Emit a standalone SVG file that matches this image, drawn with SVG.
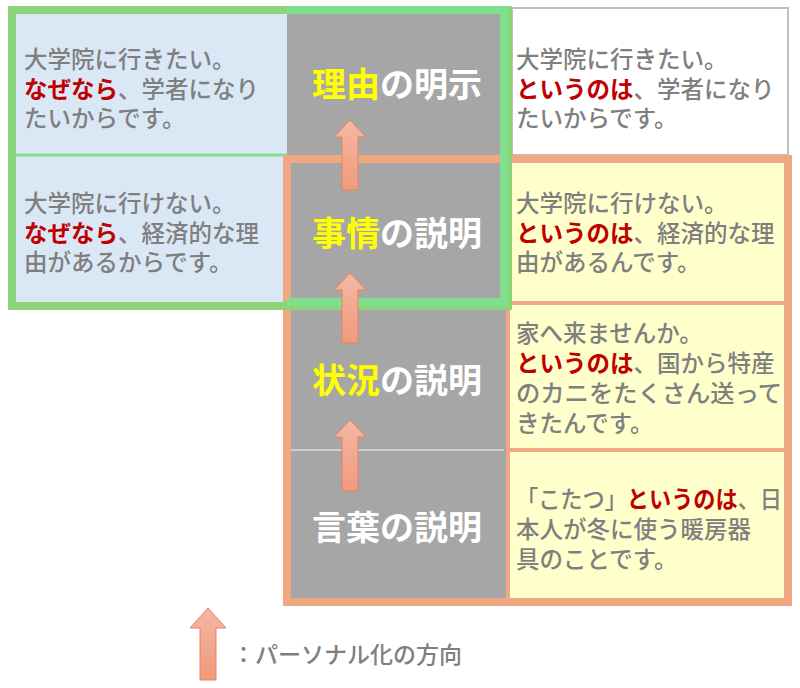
<svg xmlns="http://www.w3.org/2000/svg" width="800" height="688" viewBox="0 0 800 688">
<style>
text{font-family:"Noto Sans CJK JP","Noto Sans",sans-serif}
.t{font-size:23.5px;fill:#7f7f7f;font-weight:500}
.r{fill:#c00000;font-weight:bold}
.m{font-size:34px;fill:#fff;text-anchor:middle;font-weight:bold}
.y{fill:#ffff00}
.arw{stroke:#e8825e;stroke-width:1}
</style>
<defs>
<linearGradient id="ag" x1="0" y1="0" x2="0" y2="1"><stop offset="0" stop-color="#f4b8a4"/><stop offset="1" stop-color="#f09a7c"/></linearGradient>
</defs>
<g id="cells">
<rect x="16" y="12" width="271" height="143" fill="#dae8f6"/>
<rect x="16" y="155" width="271" height="148" fill="#dae8f6"/>
<rect x="287" y="12" width="221" height="590" fill="#a6a6a6"/>
<line x1="291" y1="450" x2="504" y2="450" stroke="#d0d0d0" stroke-width="2"/>
<rect x="512" y="8" width="276" height="147" fill="#fff" stroke="#bfbfbf" stroke-width="2"/>
<rect x="508" y="159" width="280" height="440" fill="#ffffcc"/>
<line x1="16" y1="155" x2="287" y2="155" stroke="#80e090" stroke-width="3"/>
<line x1="508" y1="303" x2="788" y2="303" stroke="#f0a882" stroke-width="4"/>
<line x1="508" y1="450" x2="788" y2="450" stroke="#f0a882" stroke-width="4"/>
<line x1="508" y1="159" x2="508" y2="600" stroke="#f0a882" stroke-width="4"/>
</g>
<g id="frames">
<rect x="287" y="159" width="501" height="443" fill="none" stroke="#f0a882" stroke-width="8"/>
<rect x="12" y="10" width="496" height="296" fill="none" stroke="#8cd47a" stroke-width="8"/>
<path d="M287 10 H504 V302 H287" fill="none" stroke="#80e090" stroke-width="8"/>
</g>
<g id="connectors">
<path class="arw" style="fill:url(#ag)" d="M350 120 L366 137 L358 137 L358 190 L342 190 L342 137 L334 137 Z"/>
<path class="arw" style="fill:url(#ag)" d="M350 273 L366 290 L358 290 L358 343 L342 343 L342 290 L334 290 Z"/>
<path class="arw" style="fill:url(#ag)" d="M350 420 L366 437 L358 437 L358 491 L342 491 L342 437 L334 437 Z"/>
<path class="arw" style="fill:url(#ag)" d="M208 608 L226 628 L216 628 L216 680 L200 680 L200 628 L190 628 Z"/>
</g>
<g id="left1"><text class="t" x="24" y="68">大学院に行きたい。</text><text class="t" x="24" y="98"><tspan class="r">なぜなら</tspan>、学者になり</text><text class="t" x="24" y="127">たいからです。</text></g>
<g id="left2"><text class="t" x="24" y="212">大学院に行けない。</text><text class="t" x="24" y="242"><tspan class="r">なぜなら</tspan>、経済的な理</text><text class="t" x="24" y="271">由があるからです。</text></g>
<g id="mid1"><text class="m" x="397" y="97"><tspan class="y">理由</tspan>の明示</text></g>
<g id="mid2"><text class="m" x="397" y="246"><tspan class="y">事情</tspan>の説明</text></g>
<g id="mid3"><text class="m" x="397" y="393"><tspan class="y">状況</tspan>の説明</text></g>
<g id="mid4"><text class="m" x="397" y="540">言葉の説明</text></g>
<g id="right1"><text class="t" x="516" y="68">大学院に行きたい。</text><text class="t" x="516" y="98"><tspan class="r">というのは</tspan>、学者になり</text><text class="t" x="516" y="127">たいからです。</text></g>
<g id="right2"><text class="t" x="516" y="212">大学院に行けない。</text><text class="t" x="516" y="242"><tspan class="r">というのは</tspan>、経済的な理</text><text class="t" x="516" y="271">由があるんです。</text></g>
<g id="right3"><text class="t" x="516" y="342">家へ来ませんか。</text><text class="t" x="516" y="372"><tspan class="r">というのは</tspan>、国から特産</text><text class="t" x="516" y="402" textLength="266" lengthAdjust="spacingAndGlyphs">のカニをたくさん送って</text><text class="t" x="516" y="432">きたんです。</text></g>
<g id="right4"><text class="t" x="516" y="508" textLength="266" lengthAdjust="spacingAndGlyphs">「こたつ」<tspan class="r">というのは</tspan>、日</text><text class="t" x="516" y="538">本人が冬に使う暖房器</text><text class="t" x="516" y="568">具のことです。</text></g>
<g id="legend"><text class="t" x="232" y="663" style="font-size:23px">：パーソナル化の方向</text></g>
</svg>
